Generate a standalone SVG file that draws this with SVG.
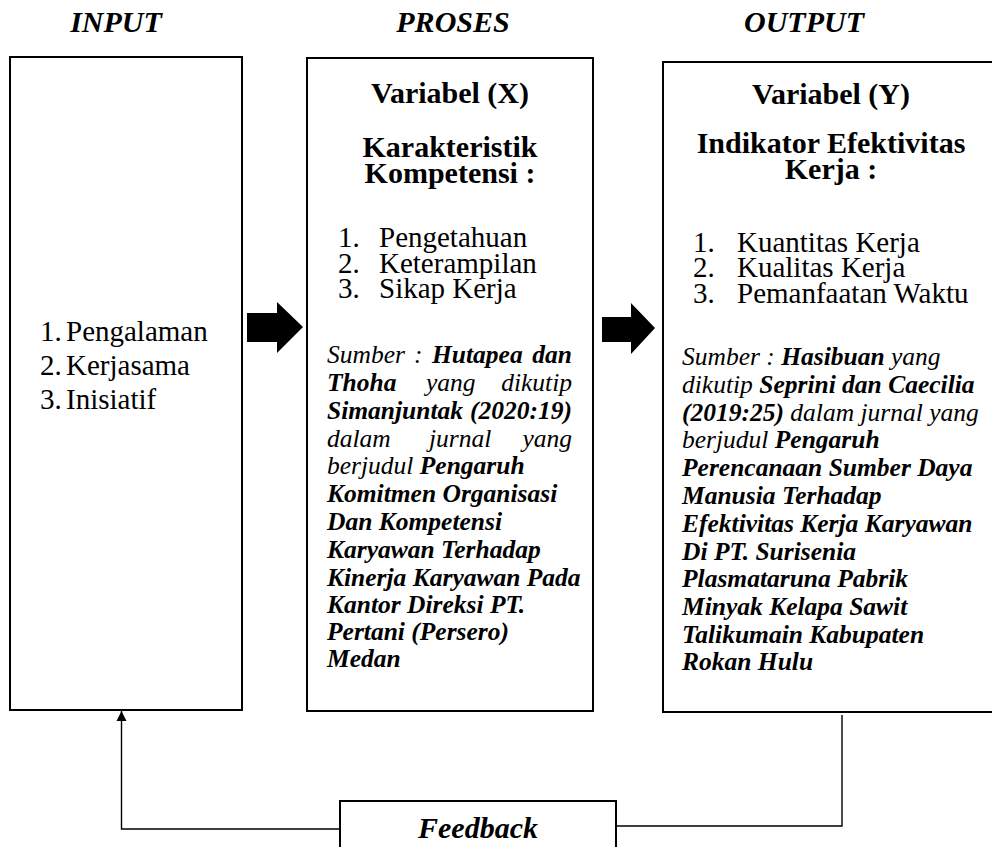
<svg xmlns="http://www.w3.org/2000/svg" width="992" height="847" viewBox="0 0 992 847" font-family="Liberation Serif, Times New Roman, serif">
<style>
text{font-family:'Liberation Serif','Times New Roman',serif;fill:#000}
.hd{font-size:30px;font-weight:bold;font-style:italic;text-anchor:middle}
.box{fill:#fff;stroke:#000;stroke-width:2}
.tt{font-size:30px;font-weight:bold;text-anchor:middle}
.li{font-size:29px}
.src{font-size:25.5px;font-style:italic}
.b{font-weight:bold}
.ln{fill:none;stroke:#000;stroke-width:1.4}
</style>
<defs>
<marker id="ah" viewBox="0 0 10 10" refX="10" refY="5" markerWidth="10" markerHeight="14" markerUnits="userSpaceOnUse" orient="auto">
<path d="M0,0 L10,5 L0,10 Z" fill="#000"/>
</marker>
</defs>
<g id="headers">
<text class="hd" x="116" y="32">INPUT</text>
<text class="hd" x="453" y="32">PROSES</text>
<text class="hd" x="804" y="32">OUTPUT</text>
</g>
<g id="input">
<rect class="box" x="10" y="57" width="232" height="653"/>
<text class="li" x="40" y="341">1.</text><text class="li" x="66" y="341">Pengalaman</text>
<text class="li" x="40" y="375">2.</text><text class="li" x="66" y="375">Kerjasama</text>
<text class="li" x="40" y="409">3.</text><text class="li" x="66" y="409">Inisiatif</text>
</g>
<g id="proses">
<rect class="box" x="307" y="58" width="286" height="653"/>
<text class="tt" x="450" y="103">Variabel (X)</text>
<text class="tt" x="450" y="157">Karakteristik</text>
<text class="tt" x="450" y="183">Kompetensi :</text>
<text class="li" x="338" y="247">1.</text><text class="li" x="379" y="247">Pengetahuan</text>
<text class="li" x="338" y="273">2.</text><text class="li" x="379" y="273">Keterampilan</text>
<text class="li" x="338" y="298">3.</text><text class="li" x="379" y="298">Sikap Kerja</text>
<text class="src" y="363"><tspan x="327">Sumber</tspan><tspan x="414">:</tspan><tspan x="432" class="b">Hutapea</tspan></text>
<text class="src b" x="572" y="363" text-anchor="end">dan</text>
<text class="src" y="391"><tspan x="327" class="b">Thoha</tspan><tspan x="426">yang</tspan></text>
<text class="src" x="572" y="391" text-anchor="end">dikutip</text>
<text class="src b" x="327" y="419">Simanjuntak</text>
<text class="src b" x="572" y="419" text-anchor="end">(2020:19)</text>
<text class="src" y="447"><tspan x="327">dalam</tspan><tspan x="429">jurnal</tspan></text>
<text class="src" x="572" y="447" text-anchor="end">yang</text>
<text class="src" x="327" y="474">berjudul <tspan class="b">Pengaruh</tspan></text>
<text class="src b" x="327" y="502">Komitmen Organisasi</text>
<text class="src b" x="327" y="530">Dan Kompetensi</text>
<text class="src b" x="327" y="558">Karyawan Terhadap</text>
<text class="src b" x="327" y="586">Kinerja Karyawan Pada</text>
<text class="src b" x="327" y="613">Kantor Direksi PT.</text>
<text class="src b" x="327" y="640">Pertani (Persero)</text>
<text class="src b" x="327" y="667">Medan</text>
</g>
<g id="output">
<rect class="box" x="663" y="62" width="340" height="650"/>
<text class="tt" x="831" y="104">Variabel (Y)</text>
<text class="tt" x="831" y="153">Indikator Efektivitas</text>
<text class="tt" x="831" y="179">Kerja :</text>
<text class="li" x="693" y="252">1.</text><text class="li" x="737" y="252">Kuantitas Kerja</text>
<text class="li" x="693" y="277">2.</text><text class="li" x="737" y="277">Kualitas Kerja</text>
<text class="li" x="693" y="303">3.</text><text class="li" x="737" y="303">Pemanfaatan Waktu</text>
<text class="src" x="682" y="365">Sumber : <tspan class="b">Hasibuan</tspan> yang</text>
<text class="src" x="682" y="393">dikutip <tspan class="b">Seprini dan Caecilia</tspan></text>
<text class="src" x="682" y="421"><tspan class="b">(2019:25)</tspan> dalam jurnal yang</text>
<text class="src" x="682" y="448">berjudul <tspan class="b">Pengaruh</tspan></text>
<text class="src b" x="682" y="476">Perencanaan Sumber Daya</text>
<text class="src b" x="682" y="504">Manusia Terhadap</text>
<text class="src b" x="682" y="532">Efektivitas Kerja Karyawan</text>
<text class="src b" x="682" y="560">Di PT. Surisenia</text>
<text class="src b" x="682" y="587">Plasmataruna Pabrik</text>
<text class="src b" x="682" y="615">Minyak Kelapa Sawit</text>
<text class="src b" x="682" y="643">Talikumain Kabupaten</text>
<text class="src b" x="682" y="670">Rokan Hulu</text>
</g>
<g id="feedback">
<rect class="box" x="340" y="801" width="276" height="60"/>
<text class="hd" x="478" y="838">Feedback</text>
</g>
<g id="connectors">
<path d="M247,313 H277 V302 L303,327 L277,353 V342 H247 Z" fill="#000"/>
<path d="M602,317 H631 V303 L655,328 L631,354 V342 H602 Z" fill="#000"/>
<path class="ln" d="M842,715 V826 H616"/>
<path class="ln" d="M340,829 H121.5 V711" marker-end="url(#ah)"/>
</g>
</svg>
